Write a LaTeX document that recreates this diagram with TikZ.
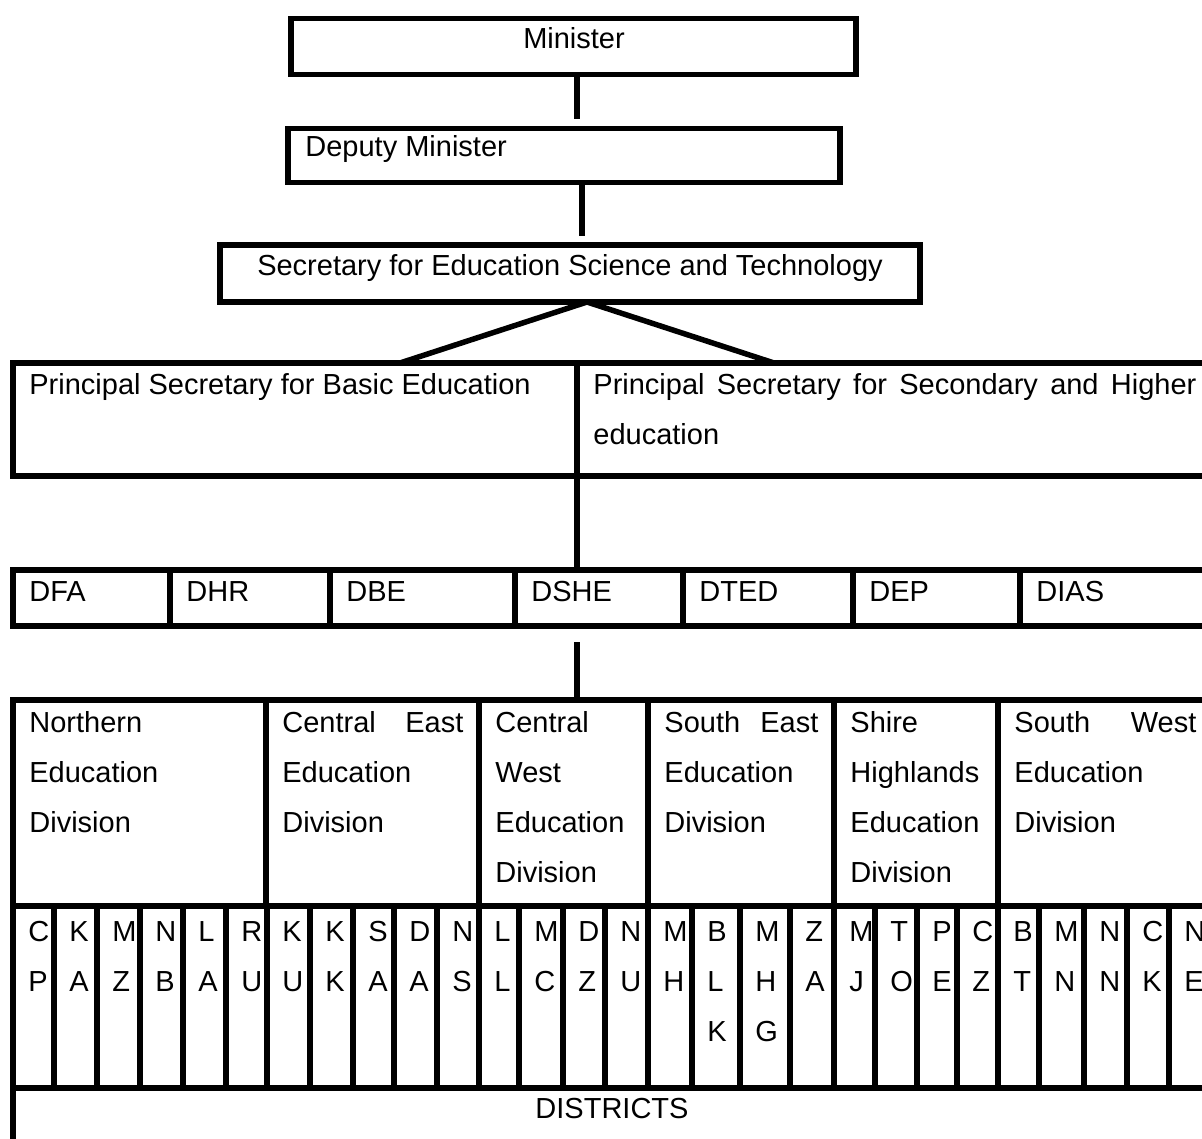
\documentclass[tikz,border=0pt]{standalone}
\usepackage{fontspec}
\setmainfont{Liberation Sans}
\usetikzlibrary{positioning}
\hyphenpenalty=10000
\tikzset{
  box/.style={draw,line width=2.75pt,rectangle,inner sep=0pt,outer sep=0pt,anchor=north west},
  lbl/.style={inner sep=0pt,anchor=base west,font=\fontsize{14.5}{25}\selectfont},
  link/.style={line width=2.75pt},
}
\begin{document}
\begin{tikzpicture}[x=0.5pt,y=-0.5pt]
\useasboundingbox (0,0) rectangle (1202,1138);
\clip (0,0) rectangle (1202,1138);
% top boxes
\node[box,minimum width=282.5pt,minimum height=28pt] (minister) at (291,18.5) {};
\node[lbl,anchor=base] (ministert) at (574,49) {Minister};
\node[box,minimum width=276pt,minimum height=27pt] (deputy) at (288,128.5) {};
\node[lbl] (deputyt) at (305,157) {Deputy Minister};
\node[box,minimum width=350pt,minimum height=28.5pt] (sest) at (220,245) {};
\node[lbl,anchor=base] (sestt) at (570,276) {Secretary for Education Science and Technology};
\coordinate (m1) at (577,0);
\coordinate (m2) at (582,0);
\draw[link,shorten >=4.5pt] (minister.south -| m1) -- (deputy.north -| m1);
\draw[link,shorten >=4.5pt] (deputy.south -| m2) -- (sest.north -| m2);
% principal secretaries
\node[box,minimum width=282pt,minimum height=56.5pt] (psb) at (13,363) {};
\node[box,minimum width=317.5pt,minimum height=56.5pt] (pss) at (577,363) {};
\node[lbl] (psbt) at (29,394) {Principal Secretary for Basic Education};
\node[lbl,align=justify,text width=301.5pt] (psst) at (593,394)
  {Principal Secretary for Secondary and Higher\linebreak education};
\coordinate (vtop) at (587,302);
\coordinate (vleft) at (400,363);
\coordinate (vright) at (774,363);
\draw[link] (vleft) -- (vtop) -- (vright);
% directorates
\foreach \a/\b/\t [count=\i] in {13/170/DFA,170/330/DHR,330/515/DBE,515/683/DSHE,
  683/853/DTED,853/1020/DEP,1020/1212/DIAS}{
  \node[box,minimum width={(\b-\a)*0.5pt},minimum height=28pt] (dir\i) at (\a,570) {};
  \node[lbl] (dirt\i) at (\a+16,601) {\t};
}
\draw[link] (psb.south east) -- (psb.south east |- dir4.north);
% education divisions
\foreach \a/\b/\t [count=\i] in {13/266/{Northern\linebreak Education\linebreak Division},
  266/479/{Central East\linebreak Education\linebreak Division},
  479/648/{Central\linebreak West\linebreak Education\linebreak Division},
  648/834/{South East\linebreak Education\linebreak Division},
  834/998/{Shire\linebreak Highlands\linebreak Education\linebreak Division},
  998/1212/{South West\linebreak Education\linebreak Division}}{
  \node[box,minimum width={(\b-\a)*0.5pt},minimum height=103pt] (div\i) at (\a,700) {};
  \node[lbl,align=justify,text width={(\b-\a-32)*0.5pt}] (divt\i) at (\a+16,732) {\t};
}
\coordinate (c4) at (577,642);
\draw[link] (c4) -- (c4 |- div3.north);
% districts
\foreach \a/\b/\t [count=\i] in {13/54/{C\\P},54/97/{K\\A},97/140/{M\\Z},140/183/{N\\B},
  183/226/{L\\A},226/267/{R\\U},267/310/{K\\U},310/353/{K\\K},353/394/{S\\A},
  394/437/{D\\A},437/479/{N\\S},479/519/{L\\L},519/563/{M\\C},563/605/{D\\Z},
  605/648/{N\\U},648/692/{M\\H},692/740/{B\\L\\K},740/790/{M\\H\\G},790/834/{Z\\A},
  834/875/{M\\J},875/917/{T\\O},917/957/{P\\E},957/998/{C\\Z},998/1039/{B\\T},
  1039/1084/{M\\N},1084/1127/{N\\N},1127/1169/{C\\K},1169/1212/{N\\E}}{
  \node[box,minimum width={(\b-\a)*0.5pt},minimum height=91pt] (d\i) at (\a,906) {};
  \node[lbl,align=left,text width=15pt] (dt\i) at (\a+15,941) {\t};
}
\node[box,minimum width=599.5pt,minimum height=40pt] (districts) at (13,1088) {};
\node[lbl,anchor=base] (districtst) at (612,1118) {DISTRICTS};
\end{tikzpicture}
\end{document}
